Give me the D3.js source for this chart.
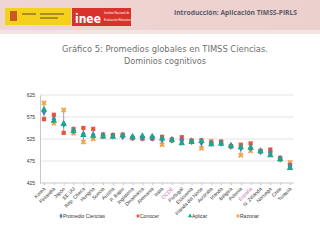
<!DOCTYPE html>
<html><head><meta charset="utf-8">
<script src="https://cdn.jsdelivr.net/npm/d3@7"></script>
<style>html,body{margin:0;padding:0;background:#fff;}svg{display:block;}</style>
</head><body><svg id="c" width="320" height="240"></svg>
<script>
const countries = ["Korea","Finlandia","Japón","EE.UU","Rep. Checa","Hungría","Suecia","Austria","P. Bajos","Inglaterra","Dinamarca","Alemania","Italia","OCDE","Portugal","Eslovenia","Irlanda del Norte","Australia","Irlanda","Bélgica","Polonia","España","N. Zelanda","Noruega","Chile","Turquía"];
const promedio = [587,570,559,544,536,534,533,532,531,529,528,528,524,523,522,520,517,516,516,509,505,505,497,494,480,463];
const conocer  = [570,580,539,548,550,548,535,534,535,527,527,526,530,524,529,521,522,516,519,509,512,515,497,501,482,466];
const aplicar  = [592,566,559,543,534,532,531,530,533,530,532,531,526,523,515,518,520,513,514,510,506,505,497,488,479,459];
const razonar  = [607,561,591,538,518,525,530,532,532,528,526,527,512,522,520,521,504,520,517,508,488,498,498,493,478,472];
const yTicks = [425,475,525,575,625];
const seriesNames = ["Promedio Ciencias","Conocer","Aplicar","Razonar"];
const highlight = ["OCDE","España"];

const svg = d3.select("#c");
// header
const defs = svg.append("defs");
const g1 = defs.append("linearGradient").attr("id","hdr").attr("x1",0).attr("x2",1);
g1.append("stop").attr("offset","0").attr("stop-color","#efd6d4");
g1.append("stop").attr("offset","1").attr("stop-color","#ecd0cd");
svg.append("rect").attr("x",0).attr("y",0).attr("width",320).attr("height",34).attr("fill","url(#hdr)");
svg.append("rect").attr("x",0).attr("y",30).attr("width",320).attr("height",4).attr("fill","#f3e3e1");
// logos
svg.append("rect").attr("x",5).attr("y",8).attr("width",66).attr("height",17).attr("fill","#f4d21c");
svg.append("rect").attr("x",10).attr("y",11).attr("width",7).attr("height",10).attr("fill","#c0392b").attr("opacity",0.8);
svg.append("rect").attr("x",22).attr("y",13).attr("width",14).attr("height",2).attr("fill","#7a6020").attr("opacity",0.6);
svg.append("rect").attr("x",40).attr("y",13).attr("width",24).attr("height",2).attr("fill","#7a6020").attr("opacity",0.6);
svg.append("rect").attr("x",40).attr("y",17).attr("width",18).attr("height",2).attr("fill","#7a6020").attr("opacity",0.6);
svg.append("rect").attr("x",72).attr("y",8).attr("width",59).attr("height",18).attr("fill","#d9322b");
svg.append("text").attr("x",75).attr("y",23).attr("fill","#fff").attr("font-family","DejaVu Sans").attr("font-weight","bold").attr("font-size",13)
  .attr("textLength",26).attr("lengthAdjust","spacingAndGlyphs").text("inee");
[["Instituto Nacional de",14],["Evaluación Educativa",21]].forEach(([t,yy])=>
  svg.append("text").attr("x",104).attr("y",yy).attr("fill","#fff").attr("font-family","Liberation Sans").attr("font-size",2.8).text(t));
svg.append("text").attr("x",174).attr("y",15).attr("fill","#5a5a6a").attr("font-family","Open Sans").attr("font-weight","bold").attr("font-size",7)
  .attr("textLength",123).attr("lengthAdjust","spacingAndGlyphs").text("Introducción: Aplicación TIMSS-PIRLS");

// title
svg.append("text").attr("x",165).attr("y",52).attr("text-anchor","middle").attr("fill","#707070").attr("font-family","DejaVu Sans Condensed, Liberation Sans Narrow, DejaVu Sans").attr("font-size",9.5)
  .attr("textLength",206).attr("lengthAdjust","spacingAndGlyphs").text("Gráfico 5: Promedios globales en TIMSS Ciencias.");
svg.append("text").attr("x",165).attr("y",64).attr("text-anchor","middle").attr("fill","#707070").attr("font-family","DejaVu Sans Condensed, Liberation Sans Narrow, DejaVu Sans").attr("font-size",9.5)
  .attr("textLength",82).attr("lengthAdjust","spacingAndGlyphs").text("Dominios cognitivos");

const x = d3.scalePoint().domain(countries).range([44,290]);
const y = d3.scaleLinear().domain([425,625]).range([183,95]);
const xL = 40, xR = 294;

// grid
svg.append("g").selectAll("line").data(yTicks.slice(1)).join("line")
  .attr("x1",xL).attr("x2",xR).attr("y1",d=>y(d)).attr("y2",d=>y(d)).attr("stroke","#e3e3e3").attr("stroke-width",1);
// y axis
const ya = svg.append("g").attr("transform",`translate(${xL},0)`).call(d3.axisLeft(y).tickValues(yTicks).tickSize(0).tickPadding(5));
ya.select(".domain").attr("stroke","#c8c8c8");
ya.selectAll("text").attr("font-family","Liberation Sans").attr("font-size",5).attr("fill","#333");
// x axis
const xa = svg.append("g").attr("transform",`translate(0,${y(425)})`).call(d3.axisBottom(x).tickSize(2));
xa.select(".domain").attr("stroke","#c8c8c8").attr("d",`M${xL},0H${xR}`);
xa.selectAll(".tick line").attr("stroke","#c8c8c8");
xa.selectAll("text").attr("font-family","Liberation Sans").attr("font-size",5)
  .attr("fill",d=>highlight.includes(d)?"#c070b0":"#333")
  .attr("text-anchor","end").attr("x",0).attr("y",0).attr("dy","0.35em")
  .attr("transform","translate(0,5) rotate(-45)");

const idx = countries.map((c,i)=>i);
// range lines
svg.append("g").selectAll("line").data(idx).join("line")
  .attr("x1",i=>x(countries[i])).attr("x2",i=>x(countries[i]))
  .attr("y1",i=>y(Math.max(conocer[i],aplicar[i],razonar[i],promedio[i])))
  .attr("y2",i=>y(Math.min(conocer[i],aplicar[i],razonar[i],promedio[i])))
  .attr("stroke","#8a8a8a").attr("stroke-width",0.8);

const cBlue="#4a7cc4", cRed="#e8573c", cTeal="#19a88c", cOr="#f2a444";
const sym = (type,size)=>d3.symbol().type(type).size(size)();
// razonar x
svg.append("g").selectAll("path").data(idx).join("path")
  .attr("transform",i=>`translate(${x(countries[i])},${y(razonar[i])}) rotate(45)`)
  .attr("d",sym(d3.symbolCross,18)).attr("fill",cOr);
// conocer square
svg.append("g").selectAll("path").data(idx).join("path")
  .attr("transform",i=>`translate(${x(countries[i])},${y(conocer[i])})`)
  .attr("d",sym(d3.symbolSquare,18)).attr("fill",cRed);
// promedio diamond
svg.append("g").selectAll("path").data(idx).join("path")
  .attr("transform",i=>`translate(${x(countries[i])},${y(promedio[i])})`)
  .attr("d",sym(d3.symbolDiamond,18)).attr("fill",cBlue);
// aplicar triangle
svg.append("g").selectAll("path").data(idx).join("path")
  .attr("transform",i=>`translate(${x(countries[i])},${y(aplicar[i])})`)
  .attr("d",sym(d3.symbolTriangle,18)).attr("fill",cTeal);

// legend
const leg = [{n:seriesNames[0],c:cBlue,t:d3.symbolDiamond,x:61,r:0},{n:seriesNames[1],c:cRed,t:d3.symbolSquare,x:138,r:0},{n:seriesNames[2],c:cTeal,t:d3.symbolTriangle,x:190,r:0},{n:seriesNames[3],c:cOr,t:d3.symbolCross,x:238,r:45}];
const lg = svg.append("g").selectAll("g").data(leg).join("g").attr("transform",d=>`translate(${d.x},216)`);
lg.append("path").attr("d",d=>sym(d.t,8)).attr("fill",d=>d.c).attr("transform",d=>`rotate(${d.r})`);
lg.append("text").attr("x",2).attr("y",2).attr("font-family","Liberation Sans").attr("font-size",5).attr("fill","#333").text(d=>d.n);
</script></body></html>
